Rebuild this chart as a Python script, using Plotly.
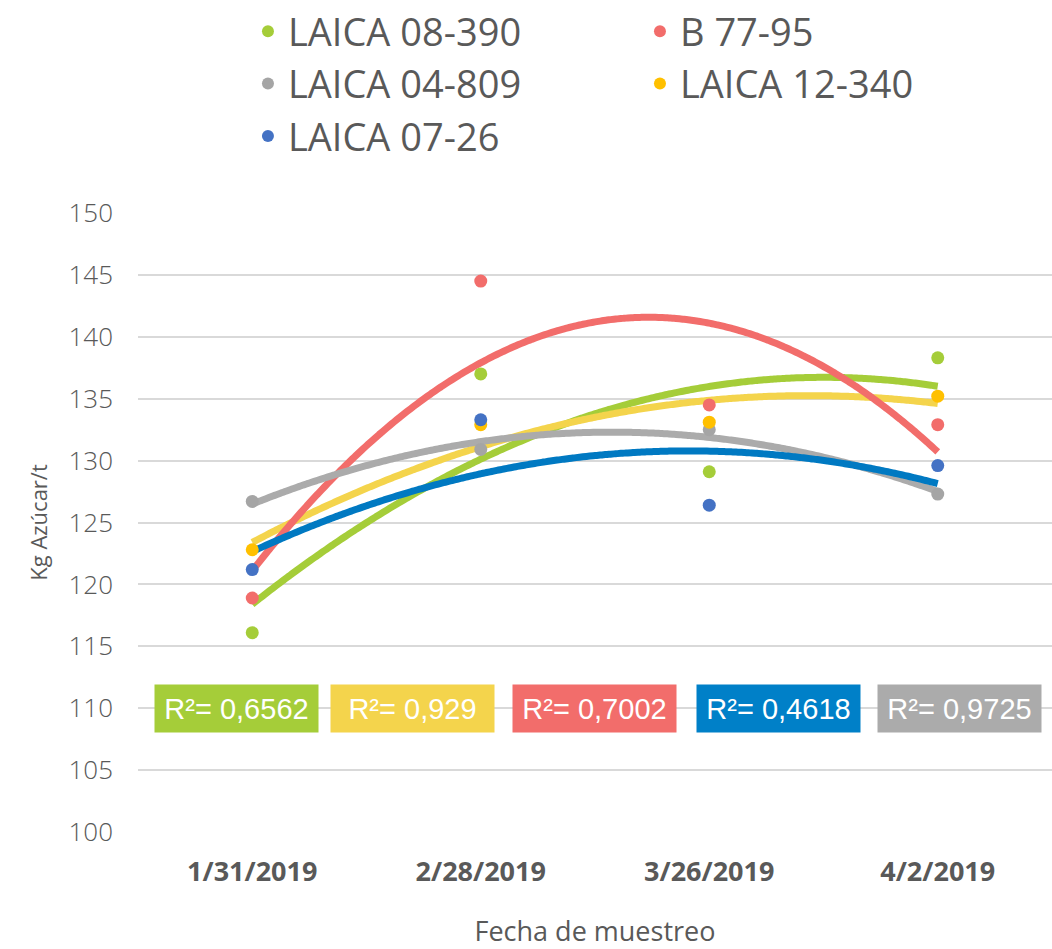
import numpy as np
import plotly.graph_objects as go

dates = ["1/31/2019", "2/28/2019", "3/26/2019", "4/2/2019"]
xpos = [1, 2, 3, 4]

names = ["LAICA 08-390", "B 77-95", "LAICA 04-809", "LAICA 12-340", "LAICA 07-26"]
laica_08_390 = [116.1, 137.0, 129.1, 138.3]
b_77_95 = [118.9, 144.5, 134.5, 132.9]
laica_04_809 = [126.7, 130.9, 132.5, 127.3]
laica_12_340 = [122.8, 132.9, 133.1, 135.2]
laica_07_26 = [121.2, 133.3, 126.4, 129.6]
series = [laica_08_390, b_77_95, laica_04_809, laica_12_340, laica_07_26]

point_colors = ["#A5CD39", "#F26D6B", "#A5A5A5", "#FFC000", "#4472C4"]
line_colors = ["#A5CD39", "#F26D6B", "#ABABAB", "#F4D44C", "#0079C2"]

r2_labels = ["R²= 0,6562", "R²= 0,929", "R²= 0,7002", "R²= 0,4618", "R²= 0,9725"]
r2_colors = ["#A5CD39", "#F4D44C", "#F26D6B", "#0080C8", "#ABABAB"]
r2_xpos = [0.931, 1.703, 2.496, 3.301, 4.097]

fig = go.Figure()

# trend lines (2nd order polynomial)
line_order = [0, 3, 1, 2, 4]
xs = np.linspace(1, 4, 200)
for i in line_order:
    coef = np.polyfit(xpos, series[i], 2)
    fig.add_trace(go.Scatter(x=xs, y=np.polyval(coef, xs), mode="lines",
                             line=dict(color=line_colors[i], width=7, shape="spline"),
                             showlegend=False, hoverinfo="skip"))

for i, name in enumerate(names):
    fig.add_trace(go.Scatter(x=xpos, y=series[i], mode="markers", name=name,
                             marker=dict(color=point_colors[i], size=13)))

for lab, col, xp in zip(r2_labels, r2_colors, r2_xpos):
    fig.add_annotation(x=xp, y=110, xref="x", yref="y", text=lab, showarrow=False,
                       bgcolor=col, width=157, height=41, borderpad=3,
                       font=dict(family="Liberation Sans Narrow, Arial Narrow, sans-serif",
                                 size=29, color="white"))

fig.update_layout(
    width=1052, height=949,
    margin=dict(l=138, r=0, t=213, b=117, autoexpand=False),
    paper_bgcolor="white", plot_bgcolor="white",
    font=dict(family="Open Sans, sans-serif", color="#595959"),
    legend=dict(orientation="h", x=0.2357, xref="container", y=1.0, yref="container",
                yanchor="top", xanchor="left", entrywidth=347,
                font=dict(size=38, color="#595959", family="Open Sans, sans-serif"),
                itemsizing="constant", tracegroupgap=0),
    xaxis=dict(range=[0.5, 4.5], tickvals=xpos, ticktext=dates, showgrid=False,
               zeroline=False, showline=False, ticks="", automargin=False,
               tickfont=dict(size=27, color="#595959", family="Open Sans, sans-serif",
                             weight="bold"),
               ticklabelstandoff=21,
               title=dict(text="Fecha de muestreo", font=dict(size=27, color="#595959"),
                          standoff=36)),
    yaxis=dict(range=[100, 150], dtick=5, showgrid=True, gridcolor="#D9D9D9", gridwidth=2,
               zeroline=False, showline=False, ticks="", automargin=False,
               tickfont=dict(size=26, color="#595959", family="Open Sans, sans-serif",
                             weight=300),
               ticklabelstandoff=24,
               title=dict(text="Kg Azúcar/t", font=dict(size=22, color="#595959"),
                          standoff=14)),
)

fig.write_html("out.html", config={"displayModeBar": False},
               post_script="document.body.style.margin='0';")
